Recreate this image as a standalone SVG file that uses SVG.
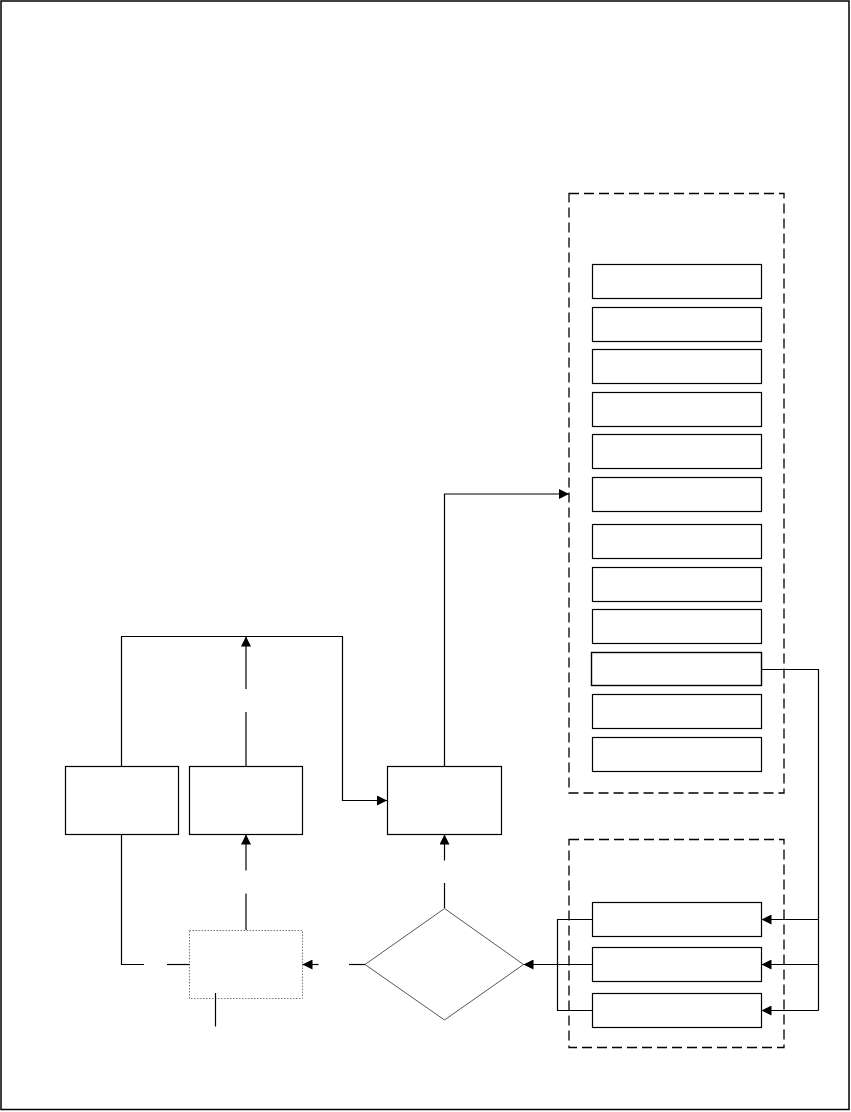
<svg xmlns="http://www.w3.org/2000/svg" width="851" height="1112" viewBox="0 0 851 1112">
<defs>
<style>
.box{fill:#fff;stroke:#000;stroke-width:1.2}
.dot{fill:#fff;stroke:#777;stroke-width:1;stroke-dasharray:1.5 1.5}
.dia{fill:#fff;stroke:#555;stroke-width:1}
.cont{fill:none;stroke:#000;stroke-width:1.3;stroke-dasharray:10 5}
.ln{fill:none;stroke:#000;stroke-width:1.2}
</style>
<marker id="ah" viewBox="0 0 10 10" refX="10" refY="5" markerWidth="10" markerHeight="10" markerUnits="userSpaceOnUse" orient="auto">
<path d="M0,0 L10,5 L0,10 z" fill="#000"/>
</marker>
</defs>
<rect x="1" y="1" width="848" height="1108.5" fill="#fff" stroke="#000" stroke-width="1.5"/>
<g id="container-top"><rect class="cont" x="569" y="193.5" width="215" height="599.5"/></g>
<g id="container-bottom"><rect class="cont" x="569" y="839.5" width="215" height="208"/></g>
<g id="list-1"><rect class="box" x="592.5" y="264.5" width="169" height="34"/></g>
<g id="list-2"><rect class="box" x="592.5" y="307.5" width="169" height="34"/></g>
<g id="list-3"><rect class="box" x="592.5" y="349.5" width="169" height="34"/></g>
<g id="list-4"><rect class="box" x="592.5" y="392.5" width="169" height="34"/></g>
<g id="list-5"><rect class="box" x="592.5" y="434.5" width="169" height="34"/></g>
<g id="list-6"><rect class="box" x="592.5" y="477.5" width="169" height="34"/></g>
<g id="list-7"><rect class="box" x="592.5" y="524.5" width="169" height="34"/></g>
<g id="list-8"><rect class="box" x="592.5" y="567.5" width="169" height="34"/></g>
<g id="list-9"><rect class="box" x="592.5" y="609.5" width="169" height="34"/></g>
<g id="list-10"><rect class="box" x="591.5" y="652.5" width="170" height="33" style="stroke-width:1.4"/></g>
<g id="list-11"><rect class="box" x="592.5" y="694.5" width="169" height="34"/></g>
<g id="list-12"><rect class="box" x="592.5" y="737.5" width="169" height="34"/></g>
<g id="sub-1"><rect class="box" x="592.5" y="902.5" width="169" height="34"/></g>
<g id="sub-2"><rect class="box" x="592.5" y="947.5" width="169" height="34"/></g>
<g id="sub-3"><rect class="box" x="592.5" y="993.5" width="169" height="34"/></g>
<g id="box-a"><rect class="box" x="65.5" y="766.5" width="113" height="68"/></g>
<g id="box-b"><rect class="box" x="189.5" y="766.5" width="113" height="68"/></g>
<g id="box-c"><rect class="box" x="387.5" y="766.5" width="114" height="68"/></g>
<g id="box-d"><rect class="dot" x="189.5" y="930.5" width="113" height="68"/></g>
<g id="decision"><polygon class="dia" points="444.5,908.5 523.5,964.5 444.5,1020 365,964.5"/></g>
<g id="connectors">
<path class="ln" d="M121.5,766.5 V636.5 H342.5 V800.5 H387" marker-end="url(#ah)"/>
<path class="ln" d="M246,689 V636.5" marker-end="url(#ah)"/>
<path class="ln" d="M246,766 V712"/>
<path class="ln" d="M246,930 V893.5"/>
<path class="ln" d="M246,870.5 V834.5" marker-end="url(#ah)"/>
<path class="ln" d="M444.5,908 V883"/>
<path class="ln" d="M444.5,860.5 V834.5" marker-end="url(#ah)"/>
<path class="ln" d="M365,964.5 H349"/>
<path class="ln" d="M318.5,964.5 H302.5" marker-end="url(#ah)"/>
<path class="ln" d="M121.5,834.5 V964.5 H144"/>
<path class="ln" d="M167,964.5 H189.5"/>
<path class="ln" d="M215.5,993 V1026.5"/>
<path class="ln" d="M444.5,766.5 V494 H569" marker-end="url(#ah)"/>
<path class="ln" d="M761.5,669.5 H818.5 V1010.5"/>
<path class="ln" d="M818.5,919.5 H761.5" marker-end="url(#ah)"/>
<path class="ln" d="M818.5,964.5 H761.5" marker-end="url(#ah)"/>
<path class="ln" d="M818.5,1010.5 H761.5" marker-end="url(#ah)"/>
<path class="ln" d="M592.5,919.5 H557.5 V1010.5 H592.5"/>
<path class="ln" d="M592.5,964.5 H523.5" marker-end="url(#ah)"/>
</g>
</svg>
